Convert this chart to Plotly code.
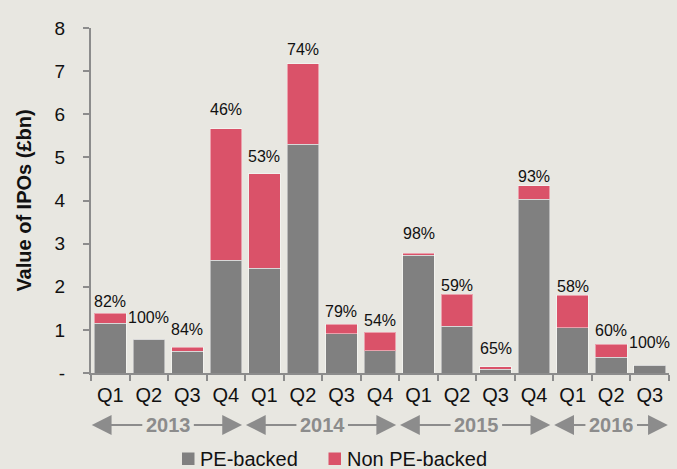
import plotly.graph_objects as go

quarters = ["Q1", "Q2", "Q3", "Q4", "Q1", "Q2", "Q3", "Q4",
            "Q1", "Q2", "Q3", "Q4", "Q1", "Q2", "Q3"]
years = ["2013", "2014", "2015", "2016"]
quarters_per_year = [4, 4, 4, 3]
pe_backed = [1.15, 0.78, 0.50, 2.62, 2.43, 5.31, 0.91, 0.52,
             2.73, 1.08, 0.09, 4.03, 1.05, 0.36, 0.18]
non_pe_backed = [0.24, 0.00, 0.10, 3.04, 2.19, 1.86, 0.22, 0.43,
                 0.05, 0.75, 0.06, 0.31, 0.75, 0.31, 0.00]
pe_share_labels = ["82%", "100%", "84%", "46%", "53%", "74%", "79%", "54%",
                   "98%", "59%", "65%", "93%", "58%", "60%", "100%"]
y_ticks = [0, 1, 2, 3, 4, 5, 6, 7, 8]
y_tick_labels = ["-", "1", "2", "3", "4", "5", "6", "7", "8"]

# styling
label_gap_px = [1, 11, 7, 9, 7, 4, 2, 1, 9, -2, 8, -1, -2, 3, 12]
BG = "#E8E7E1"
GREY = "#808080"
RED = "#DA5269"
AXIS = "#8C8C8C"
FONT = "Liberation Sans, Arial, sans-serif"
W, H = 677, 469
ML, MR, MT, MB = 91, 8, 28, 96
PW, PH = W - ML - MR, H - MT - MB
X_RANGE = [-0.5, 14.5]
PX_PER_CAT = PW / (X_RANGE[1] - X_RANGE[0])

x = list(range(len(quarters)))
totals = [p + n for p, n in zip(pe_backed, non_pe_backed)]

fig = go.Figure()
fig.add_trace(go.Bar(x=x, y=pe_backed, name="PE-backed", width=0.82,
                     marker=dict(color=GREY, line=dict(color="rgba(255,255,255,0.45)", width=1)),
                     showlegend=False))
fig.add_trace(go.Bar(x=x, y=non_pe_backed, name="Non PE-backed", width=0.82,
                     marker=dict(color=RED, line=dict(color="rgba(255,255,255,0.45)", width=1)),
                     showlegend=False))

annotations = []
for xi, t, lab, g in zip(x, totals, pe_share_labels, label_gap_px):
    annotations.append(dict(x=xi, y=t, xref="x", yref="y", text=lab, showarrow=False,
                            yanchor="bottom", yshift=g,
                            font=dict(family=FONT, size=16, color="#111111")))

# year brackets with arrows (below the axis, paper y)
year_y = (H - MB - 425) / PH
start = 0
for yr, n in zip(years, quarters_per_year):
    left = start - 0.5
    right = start + n - 0.5
    if n < 4:
        right = start + 4 - 0.5 - 0.95
    center = (start - 0.5 + start + n - 0.5) / 2
    annotations.append(dict(x=center, y=year_y, xref="x", yref="paper", text="<b>" + yr + "</b>",
                            showarrow=False, xanchor="center", yanchor="middle",
                            font=dict(family=FONT, size=20, color=AXIS)))
    half = 0.63
    for tip, tail in [(left + 0.02, center - half), (right - 0.08, center + half)]:
        annotations.append(dict(x=tip, y=year_y, xref="x", yref="paper",
                                ax=(tail - tip) * PX_PER_CAT, ay=0,
                                axref="pixel", ayref="pixel", text="", showarrow=True,
                                arrowhead=2, arrowsize=1.8, arrowwidth=2.2,
                                arrowcolor=AXIS, standoff=0, startstandoff=0))
    start += n

# custom legend
legend_items = [("PE-backed", GREY, 182, 198), ("Non PE-backed", RED, 328.5, 345)]
shapes = []
for name, col, sq_x, txt_x in legend_items:
    shapes.append(dict(type="rect", xref="paper", yref="paper",
                       x0=(sq_x - ML) / PW, x1=(sq_x + 12.5 - ML) / PW,
                       y0=(H - MB - 465) / PH, y1=(H - MB - 452.5) / PH,
                       fillcolor=col, line=dict(width=0)))
    annotations.append(dict(x=(txt_x - ML) / PW, y=(H - MB - 459) / PH, xref="paper", yref="paper",
                            text=name, showarrow=False, xanchor="left", yanchor="middle",
                            font=dict(family=FONT, size=20, color="#111111")))

fig.update_layout(
    width=W, height=H,
    margin=dict(l=ML, r=MR, t=MT, b=MB),
    paper_bgcolor=BG, plot_bgcolor=BG,
    barmode="stack",
    font=dict(family=FONT, color="#111111"),
    annotations=annotations,
    shapes=shapes,
    xaxis=dict(range=X_RANGE, tickvals=x, ticktext=quarters, ticks="",
               showline=True, linecolor=AXIS, linewidth=2, showgrid=False, zeroline=False,
               tickfont=dict(size=20, family=FONT, color="#111111"),
               ticklabelstandoff=3,
               minor=dict(tickvals=[i - 0.5 for i in range(len(quarters) + 1)],
                          ticks="outside", ticklen=6, tickcolor=AXIS, tickwidth=2)),
    yaxis=dict(range=[0, 8], tickvals=y_ticks, ticktext=y_tick_labels,
               ticks="outside", ticklen=6, tickcolor=AXIS, tickwidth=2,
               showline=True, linecolor=AXIS, linewidth=2, showgrid=False, zeroline=False,
               tickfont=dict(size=19, family=FONT, color="#111111"),
               ticklabelstandoff=14,
               title=dict(text="<b>Value of IPOs (£bn)</b>", standoff=18,
                          font=dict(size=20, family=FONT, color="#111111"))),
)

fig.write_html("out.html", config={"displayModeBar": False},
               post_script="document.body.style.margin='0';document.body.style.background='" + BG + "';")
